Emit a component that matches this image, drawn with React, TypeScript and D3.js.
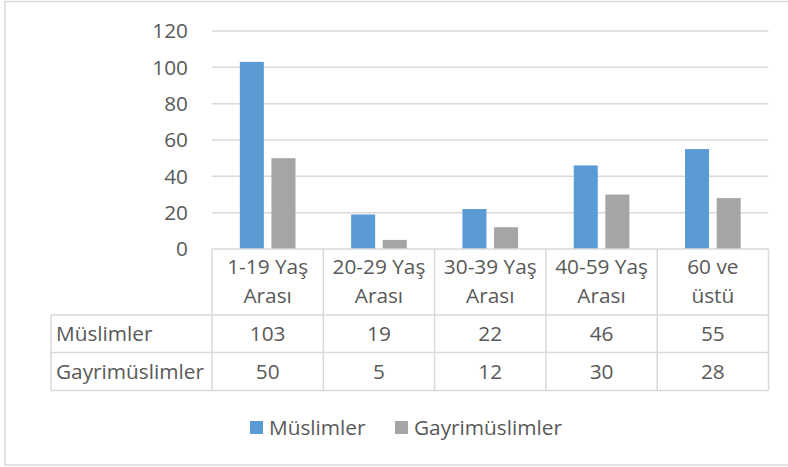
import React from 'react';
import * as d3 from 'd3';

const categories = ['1-19 Yaş Arası', '20-29 Yaş Arası', '30-39 Yaş Arası', '40-59 Yaş Arası', '60 ve üstü'];
const categoryLines = [
  ['1-19 Yaş', 'Arası'],
  ['20-29 Yaş', 'Arası'],
  ['30-39 Yaş', 'Arası'],
  ['40-59 Yaş', 'Arası'],
  ['60 ve', 'üstü'],
];
const seriesNames = ['Müslimler', 'Gayrimüslimler'];
const muslimler = [103, 19, 22, 46, 55];
const gayrimuslimler = [50, 5, 12, 30, 28];
const yTicks = [0, 20, 40, 60, 80, 100, 120];

const W = 788;
const H = 467;
const PLOT_LEFT = 212;
const PLOT_RIGHT = 768.5;
const PLOT_TOP = 31;
const PLOT_BOTTOM = 249;
const TABLE_LEFT = 51;
const ROW1 = 315;
const ROW2 = 352.5;
const ROW3 = 390.5;
const COLORS = ['#5b9bd5', '#a5a5a5'];
const GRID = '#d9d9d9';
const TEXT = '#595959';
const FONT = '"Open Sans", sans-serif';
const FS = 20.8;

export default function App() {
  const values = [muslimler, gayrimuslimler];
  const x0 = d3.scaleBand<string>().domain(categories).range([PLOT_LEFT, PLOT_RIGHT]).padding(0);
  const x1 = d3
    .scaleBand<string>()
    .domain(seriesNames)
    .range([0, x0.bandwidth()])
    .paddingInner(0.24)
    .paddingOuter(0.88);
  const y = d3.scaleLinear().domain([0, 120]).range([PLOT_BOTTOM, PLOT_TOP]);

  const colEdges = categories.map((c) => x0(c) as number).concat([PLOT_RIGHT]);

  return (
    <svg
      width={W}
      height={H}
      style={{ position: 'absolute', left: 0, top: 0, background: '#fff' }}
      fontFamily={FONT}
    >
      <rect x={5} y={1.5} width={W} height={463.5} fill="#fff" stroke={GRID} strokeWidth={1.5} />

      {/* grid + y labels */}
      {yTicks.map((t) => (
        <g key={t}>
          {t > 0 && (
            <line x1={PLOT_LEFT} x2={PLOT_RIGHT} y1={y(t)} y2={y(t)} stroke={GRID} strokeWidth={1.5} />
          )}
          <text x={188} y={y(t)} dy="0.35em" textAnchor="end" fontSize={FS} fill={TEXT}>
            {t}
          </text>
        </g>
      ))}

      {/* bars */}
      {categories.map((c, i) => (
        <g key={c} transform={`translate(${x0(c)},0)`}>
          {seriesNames.map((s, j) => (
            <rect
              key={s}
              x={x1(s)}
              y={y(values[j][i])}
              width={x1.bandwidth()}
              height={PLOT_BOTTOM - y(values[j][i])}
              fill={COLORS[j]}
            />
          ))}
        </g>
      ))}

      {/* data table */}
      <g stroke={GRID} strokeWidth={1.5} fill="none">
        <line x1={PLOT_LEFT} x2={PLOT_RIGHT} y1={PLOT_BOTTOM} y2={PLOT_BOTTOM} />
        <line x1={TABLE_LEFT} x2={PLOT_RIGHT} y1={ROW1} y2={ROW1} />
        <line x1={TABLE_LEFT} x2={PLOT_RIGHT} y1={ROW2} y2={ROW2} />
        <line x1={TABLE_LEFT} x2={PLOT_RIGHT} y1={ROW3} y2={ROW3} />
        <line x1={TABLE_LEFT} x2={TABLE_LEFT} y1={ROW1} y2={ROW3} />
        {colEdges.map((e, k) => (
          <line key={k} x1={e} x2={e} y1={PLOT_BOTTOM} y2={ROW3} />
        ))}
      </g>

      {categories.map((c, i) => {
        const cx = (x0(c) as number) + x0.bandwidth() / 2;
        return (
          <g key={c} fontSize={FS} fill={TEXT} textAnchor="middle">
            <text x={cx} y={267} dy="0.35em">
              {categoryLines[i][0]}
            </text>
            <text x={cx} y={296} dy="0.35em">
              {categoryLines[i][1]}
            </text>
            <text x={cx} y={(ROW1 + ROW2) / 2} dy="0.35em">
              {muslimler[i]}
            </text>
            <text x={cx} y={(ROW2 + ROW3) / 2} dy="0.35em">
              {gayrimuslimler[i]}
            </text>
          </g>
        );
      })}
      {seriesNames.map((s, j) => (
        <text key={s} x={56} y={j === 0 ? (ROW1 + ROW2) / 2 : (ROW2 + ROW3) / 2} dy="0.35em" fontSize={FS} fill={TEXT}>
          {s}
        </text>
      ))}

      {/* legend */}
      <rect x={250} y={421} width={13} height={13} fill={COLORS[0]} />
      <text x={269} y={427.5} dy="0.35em" fontSize={FS} fill={TEXT}>
        {seriesNames[0]}
      </text>
      <rect x={395} y={421} width={13} height={13} fill={COLORS[1]} />
      <text x={414} y={427.5} dy="0.35em" fontSize={FS} fill={TEXT}>
        {seriesNames[1]}
      </text>
    </svg>
  );
}
